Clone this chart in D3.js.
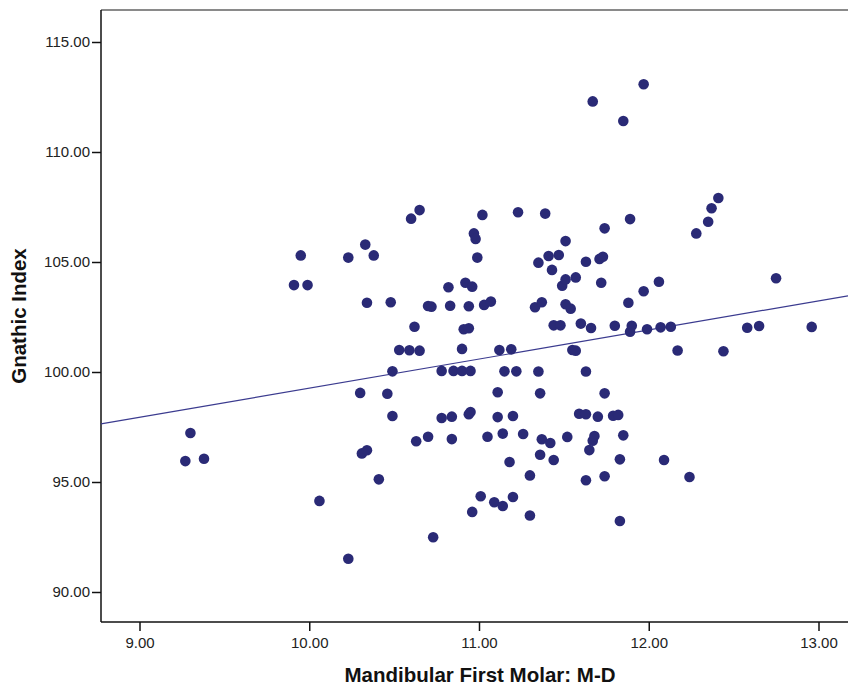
<!DOCTYPE html>
<html lang="en">
<head>
<meta charset="utf-8">
<title>Gnathic Index vs Mandibular First Molar</title>
<script src="https://d3js.org/d3.v7.min.js"></script>
<style>
  body { margin: 0; background: #fff; }
  .tick text { font-family: "Liberation Sans", Arial, sans-serif; font-size: 15px; fill: #222; }
  .axisTitle { font-family: "Liberation Sans", Arial, sans-serif; font-weight: bold; font-size: 20.5px; fill: #111; }
</style>
</head>
<body>
<div id="chart"></div>
<script>
// mesio-distal width of mandibular first molar
var molarMD = [9.27, 9.30, 9.38, 9.91, 9.95, 9.99, 10.06, 10.23, 10.23, 10.30,
  10.31, 10.33, 10.34, 10.34, 10.38, 10.41, 10.46, 10.48, 10.49, 10.49,
  10.53, 10.59, 10.60, 10.62, 10.63, 10.65, 10.65, 10.70, 10.70, 10.72,
  10.73, 10.78, 10.78, 10.82, 10.83, 10.84, 10.84, 10.85, 10.90, 10.90,
  10.91, 10.92, 10.94, 10.94, 10.94, 10.95, 10.95, 10.96, 10.96, 10.97,
  10.98, 10.99, 11.01, 11.02, 11.03, 11.05, 11.07, 11.09, 11.11, 11.11,
  11.12, 11.14, 11.14, 11.15, 11.18, 11.19, 11.20, 11.20, 11.22, 11.23,
  11.26, 11.30, 11.30, 11.33, 11.35, 11.35, 11.36, 11.36, 11.37, 11.37,
  11.39, 11.41, 11.42, 11.43, 11.44, 11.44, 11.47, 11.48, 11.49, 11.51,
  11.51, 11.51, 11.52, 11.54, 11.55, 11.57, 11.57, 11.59, 11.60, 11.63,
  11.63, 11.63, 11.63, 11.65, 11.66, 11.67, 11.67, 11.68, 11.70, 11.71,
  11.72, 11.73, 11.74, 11.74, 11.74, 11.79, 11.80, 11.82, 11.83, 11.83,
  11.85, 11.85, 11.88, 11.89, 11.89, 11.90, 11.97, 11.97, 11.99, 12.06,
  12.07, 12.09, 12.13, 12.17, 12.24, 12.28, 12.35, 12.37, 12.41, 12.44,
  12.58, 12.65, 12.75, 12.96];

var gnathicIndex = [95.95, 97.23, 96.06, 103.95, 105.30, 103.95, 94.14, 105.20, 91.51, 99.05,
  96.30, 105.79, 103.15, 96.44, 105.30, 95.12, 99.01, 103.17, 100.03, 98.00,
  101.00, 100.99, 106.97, 102.06, 96.85, 107.36, 100.97, 103.00, 97.06, 102.97,
  92.49, 100.05, 97.91, 103.85, 103.01, 97.97, 96.95, 100.05, 100.05, 101.05,
  101.94, 104.06, 102.99, 101.99, 98.08, 100.05, 98.18, 103.88, 93.64, 106.30,
  106.05, 105.20, 94.35, 107.14, 103.05, 97.06, 103.20, 94.08, 99.08, 97.95,
  101.00, 97.20, 93.91, 100.03, 95.91, 101.03, 98.00, 94.32, 100.03, 107.26,
  97.18, 95.30, 93.48, 102.94, 104.97, 100.02, 99.03, 96.24, 96.94, 103.17,
  107.20, 105.27, 96.77, 104.64, 102.12, 96.00, 105.32, 102.12, 103.92, 104.21,
  103.08, 105.95, 97.05, 102.88, 101.00, 104.30, 100.97, 98.10, 102.20, 105.01,
  100.02, 98.08, 95.08, 96.45, 102.00, 96.88, 112.30, 97.09, 97.97, 105.14,
  104.06, 105.24, 106.53, 99.03, 95.26, 98.01, 102.10, 98.05, 96.03, 93.23,
  111.41, 97.12, 103.15, 106.95, 101.83, 102.10, 113.08, 103.67, 101.94, 104.10,
  102.03, 96.00, 102.06, 100.98, 95.23, 106.30, 106.83, 107.44, 107.91, 100.94,
  102.01, 102.09, 104.26, 102.05];

var xTicks = [9, 10, 11, 12, 13];
var yTicks = [90, 95, 100, 105, 110, 115];

var width = 848, height = 685;
var plotLeft = 101, plotTop = 10, plotBottom = 622, plotRight = 848;

var svg = d3.select("#chart").append("svg")
  .attr("width", width)
  .attr("height", height);

var x = d3.scaleLinear().domain([9, 13]).range([139.5, 818.5]);
var y = d3.scaleLinear().domain([90, 115]).range([592, 42]);

// frame: grey top rule, black axis lines
svg.append("line")
  .attr("x1", plotLeft).attr("x2", plotRight)
  .attr("y1", plotTop).attr("y2", plotTop)
  .style("stroke", "#8a8a8a").style("stroke-width", 2);

var xAxis = d3.axisBottom(x).tickValues(xTicks).tickFormat(d3.format(".2f"))
  .tickSize(9).tickPadding(6);
var yAxis = d3.axisLeft(y).tickValues(yTicks).tickFormat(d3.format(".2f"))
  .tickSize(9).tickPadding(2);

var gx = svg.append("g").attr("transform", "translate(0," + plotBottom + ")").call(xAxis);
var gy = svg.append("g").attr("transform", "translate(" + plotLeft + ",0)").call(yAxis);
gx.select(".domain").remove();
gy.select(".domain").remove();
svg.selectAll(".tick line").style("stroke", "#111").style("stroke-width", 1.5);

svg.append("line")
  .attr("x1", plotLeft).attr("x2", plotRight)
  .attr("y1", plotBottom).attr("y2", plotBottom)
  .style("stroke", "#111").style("stroke-width", 1.5);
svg.append("line")
  .attr("x1", plotLeft).attr("x2", plotLeft)
  .attr("y1", plotTop).attr("y2", plotBottom)
  .style("stroke", "#111").style("stroke-width", 1.5);

// least squares fit line
var points = molarMD.map(function(d, i) { return [d, gnathicIndex[i]]; });
var mx = d3.mean(molarMD), my = d3.mean(gnathicIndex);
var sxy = d3.sum(points, function(p) { return (p[0] - mx) * (p[1] - my); });
var sxx = d3.sum(points, function(p) { return (p[0] - mx) * (p[0] - mx); });
var slope = sxy / sxx, intercept = my - slope * mx;
var x0 = x.invert(plotLeft), x1 = x.invert(plotRight);

svg.append("line")
  .attr("x1", x(x0)).attr("y1", y(intercept + slope * x0))
  .attr("x2", x(x1)).attr("y2", y(intercept + slope * x1))
  .style("stroke", "#3b3b8f").style("stroke-width", 1.2);

svg.append("g").selectAll("circle")
  .data(points)
  .enter()
  .append("circle")
  .attr("cx", function(d) { return x(d[0]); })
  .attr("cy", function(d) { return y(d[1]); })
  .attr("r", 5.3)
  .style("fill", "#2a2a76");

svg.append("text")
  .attr("class", "axisTitle")
  .attr("x", 480).attr("y", 682)
  .style("text-anchor", "middle")
  .text("Mandibular First Molar: M-D");

svg.append("text")
  .attr("class", "axisTitle")
  .attr("transform", "translate(26," + ((plotTop + plotBottom) / 2) + ") rotate(-90)")
  .style("text-anchor", "middle")
  .text("Gnathic Index");
</script>
</body>
</html>
